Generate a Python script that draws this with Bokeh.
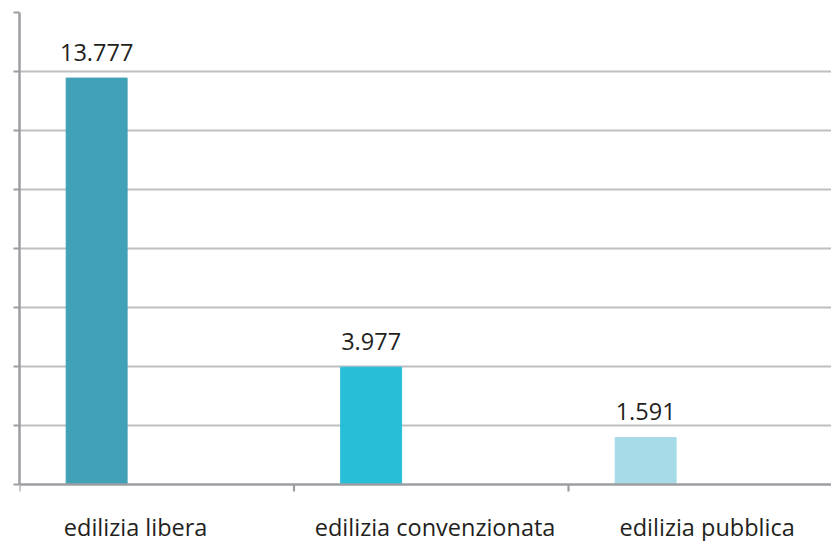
from bokeh.plotting import figure
from bokeh.models import Range1d, FixedTicker, ColumnDataSource, Span
from bokeh.core.properties import value
from bokeh.embed import file_html
from bokeh.resources import INLINE

# Alloggi per tipo di edilizia
categories = ["edilizia libera", "edilizia convenzionata", "edilizia pubblica"]
alloggi = [13777, 3977, 1591]
bar_colors = ["#41a1b6", "#27bfd7", "#a7dbe8"]
value_labels = [f"{v:,}".replace(",", ".") for v in alloggi]
y_ticks = list(range(0, 16001, 2000))

FONT = "Open Sans"
TEXT_COLOR = "#231f20"
GRID_COLOR = "#bebfc3"
AXIS_COLOR = "#9d9ea2"

# layout in pixels
W, H = 831, 541
LEFT, TOP = 19, 12
PLOT_H = 472            # height of the 0..16000 value span
CAT_W = 274.5           # width of one category slot

# each category occupies one unit on the x axis; the bar sits in its left part
bar_offset = 0.281
bar_width = 0.222
label_offsets = [0.423, 0.514, 0.505]

idx = list(range(len(categories)))
bar_x = [i + bar_offset for i in idx]
label_x = [i + o for i, o in zip(idx, label_offsets)]

y_max = y_ticks[-1]
units_per_px = y_max / PLOT_H
y_min = -(H - TOP - PLOT_H) * units_per_px   # room below the baseline for the names
tick_len = 7 * units_per_px

src = ColumnDataSource(dict(x=bar_x, top=alloggi, color=bar_colors, label=value_labels))
cat_src = ColumnDataSource(dict(x=label_x, y=[0] * len(categories), name=categories))
sep_src = ColumnDataSource(dict(x=[float(i) for i in idx], y0=[0] * len(idx),
                                y1=[-tick_len] * len(idx)))

p = figure(width=W, height=H, output_backend="svg", toolbar_location=None,
           x_axis_location=None,
           x_range=Range1d(0, (W - LEFT) / CAT_W), y_range=Range1d(y_min, y_max),
           min_border_left=LEFT, min_border_right=0, min_border_top=TOP, min_border_bottom=0)
p.outline_line_color = None
p.background_fill_color = "white"
p.border_fill_color = "white"

# horizontal grid
p.xgrid.visible = False
p.ygrid.ticker = FixedTicker(ticks=y_ticks[1:-1])
p.ygrid.grid_line_color = GRID_COLOR
p.ygrid.grid_line_width = 2.2

p.vbar(x="x", top="top", width=bar_width, bottom=0, color="color", source=src)
p.text(x="x", y="top", text="label", source=src, y_offset=-26,
       text_align="center", text_baseline="alphabetic",
       text_font=value(FONT), text_font_size="23.5px", text_color=TEXT_COLOR)

# baseline with category separators and names
p.add_layout(Span(location=0, dimension="width", line_color=AXIS_COLOR, line_width=2.5))
p.segment(x0="x", y0="y0", x1="x", y1="y1", source=sep_src,
          line_color=AXIS_COLOR, line_width=2.2)
p.text(x="x", y="y", text="name", source=cat_src, y_offset=42,
       text_align="center", text_baseline="alphabetic",
       text_font=value(FONT), text_font_size="23.5px", text_color=TEXT_COLOR)

# y axis: ticks only, no labels
ya = p.yaxis[0]
ya.ticker = FixedTicker(ticks=y_ticks)
ya.bounds = (0, y_max)
ya.axis_line_color = AXIS_COLOR
ya.axis_line_width = 2.5
ya.major_tick_line_color = AXIS_COLOR
ya.major_tick_line_width = 2.2
ya.major_tick_in = 0
ya.major_tick_out = 6
ya.minor_tick_line_color = None
ya.major_label_overrides = {t: "" for t in y_ticks}
ya.major_label_standoff = 0

open("out.html", "w").write(file_html(p, INLINE))
